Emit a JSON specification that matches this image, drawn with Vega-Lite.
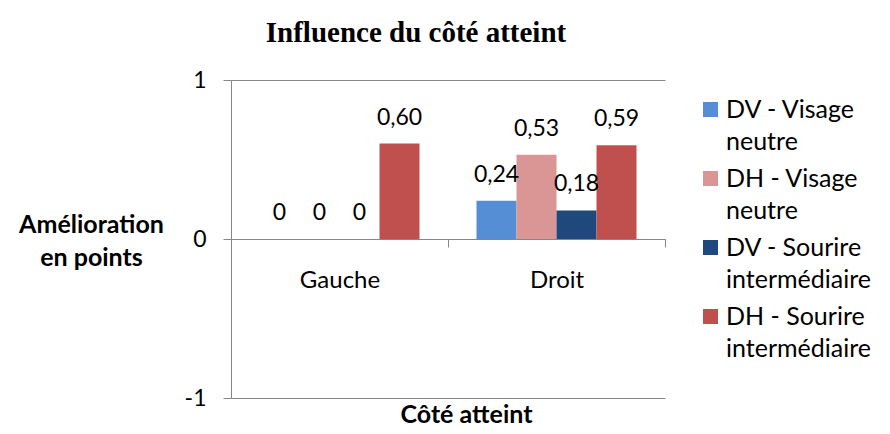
{
  "$schema": "https://vega.github.io/schema/vega-lite/v6.json",
  "width": 434,
  "height": 318,
  "autosize": {"type": "none"},
  "padding": {"left": 231, "top": 80, "right": 225, "bottom": 36},
  "background": "white",
  "title": {"text": "Influence du côté atteint", "font": "Liberation Serif", "fontSize": 29, "fontWeight": "bold", "color": "black", "anchor": "middle", "frame": "group", "dx": -32, "offset": 21},
  "data": {"values": [
    {"cote": "Gauche", "serie": "DV - Visage neutre", "v": 0},
    {"cote": "Gauche", "serie": "DH - Visage neutre", "v": 0},
    {"cote": "Gauche", "serie": "DV - Sourire intermédiaire", "v": 0},
    {"cote": "Gauche", "serie": "DH - Sourire intermédiaire", "v": 0.60},
    {"cote": "Droit", "serie": "DV - Visage neutre", "v": 0.24},
    {"cote": "Droit", "serie": "DH - Visage neutre", "v": 0.53},
    {"cote": "Droit", "serie": "DV - Sourire intermédiaire", "v": 0.18},
    {"cote": "Droit", "serie": "DH - Sourire intermédiaire", "v": 0.59}
  ]},
  "transform": [
    {"calculate": "datum.v === 0 ? '0' : replace(format(datum.v, '.2f'), '.', ',')", "as": "lbl"}
  ],
  "encoding": {
    "x": {
      "field": "cote", "type": "nominal", "sort": ["Gauche", "Droit"],
      "scale": {"paddingInner": 0, "paddingOuter": 0},
      "axis": {
        "orient": "bottom", "offset": -159, "title": "Côté atteint", "titleX": 235, "titleY": 175,
        "titleAlign": "center", "titleBaseline": "middle", "titleFont": "Lato", "titleFontSize": 25, "titleFontWeight": "bold", "titleColor": "black",
        "labelAngle": 0, "labelFont": "Lato", "labelFontSize": 24, "labelColor": "black", "labelPadding": 21,
        "tickSize": 8, "tickBand": "extent", "tickColor": "#868686", "domainColor": "#868686", "grid": false
      }
    },
    "xOffset": {
      "field": "serie", "type": "nominal",
      "sort": ["DV - Visage neutre", "DH - Visage neutre", "DV - Sourire intermédiaire", "DH - Sourire intermédiaire"],
      "scale": {"paddingInner": 0, "paddingOuter": 0.7125}
    },
    "y": {
      "field": "v", "type": "quantitative",
      "scale": {"domain": [-1, 1]},
      "axis": {
        "values": [-1, 0, 1], "labelExpr": "'' + datum.value",
        "title": ["Amélioration", "en points"], "titleAngle": 0, "titleX": -140, "titleY": 144, "titleLineHeight": 33,
        "titleAlign": "center", "titleBaseline": "middle", "titleFont": "Lato", "titleFontSize": 25, "titleFontWeight": "bold", "titleColor": "black",
        "labelFont": "Lato", "labelFontSize": 23, "labelColor": "black", "labelPadding": 17,
        "tickSize": 8, "tickColor": "#868686", "domainColor": "#868686",
        "grid": true, "gridColor": "#868686", "gridOpacity": 1
      }
    }
  },
  "layer": [
    {
      "mark": {"type": "bar"},
      "encoding": {
        "color": {
          "field": "serie", "type": "nominal",
          "scale": {
            "domain": ["DV - Visage neutre", "DH - Visage neutre", "DV - Sourire intermédiaire", "DH - Sourire intermédiaire"],
            "range": ["#558ED5", "#D99694", "#1F497D", "#C0504D"]
          },
          "legend": {
            "orient": "none", "legendX": 467, "legendY": 17, "title": null, "padding": 0,
            "symbolType": "square", "symbolSize": 225, "symbolStrokeWidth": 0,
            "labelFont": "Lato", "labelFontSize": 25, "labelColor": "black", "labelOffset": 3, "labelLimit": 0,
            "labelExpr": "[slice(datum.label, 0, lastindexof(datum.label, ' ')), slice(datum.label, lastindexof(datum.label, ' ') + 1)]",
            "rowPadding": 11,
            "encoding": {"labels": {"lineHeight": {"value": 32}}}
          }
        }
      }
    },
    {
      "mark": {"type": "text", "baseline": "bottom", "dy": -14, "font": "Lato", "fontSize": 23, "color": "black"},
      "encoding": {"text": {"field": "lbl"}}
    }
  ],
  "config": {"font": "Lato", "view": {"stroke": null}}
}
